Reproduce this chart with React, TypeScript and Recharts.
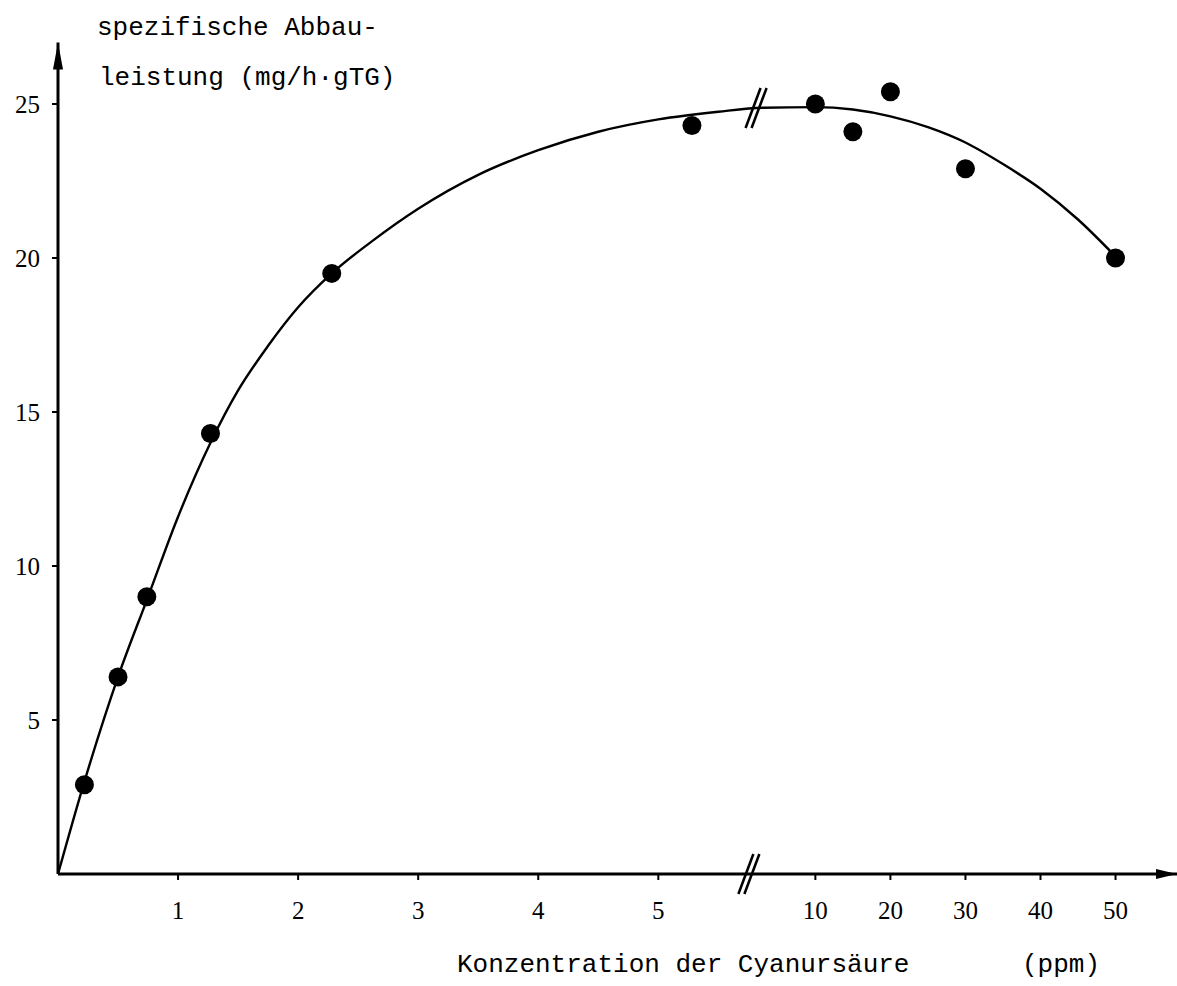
import React from 'react';
import {
  ComposedChart,
  Line,
  Scatter,
  XAxis,
  YAxis,
  ReferenceDot,
} from 'recharts';

// measured points, left part of the broken axis (ppm)
const leftPpm = [0.22, 0.5, 0.74, 1.27, 2.28, 5.28];
const leftRate = [2.9, 6.4, 9.0, 14.3, 19.5, 24.3];

// measured points, right part of the broken axis (ppm)
const rightPpm = [10, 15, 20, 30, 50];
const rightRate = [25.0, 24.1, 25.4, 22.9, 20.0];

// fitted curve
const curveLeftPpm = [0, 0.22, 0.5, 0.75, 1.0, 1.27, 1.5, 1.75, 2.0, 2.28, 2.6, 3.0, 3.5, 4.0, 4.5, 5.0, 5.5];
const curveLeftRate = [0, 3.0, 6.4, 9.0, 11.6, 14.0, 15.7, 17.15, 18.4, 19.5, 20.5, 21.6, 22.7, 23.5, 24.1, 24.5, 24.75];
const curveRightPpm = [3, 10, 15, 20, 25, 30, 35, 40, 45, 50];
const curveRightRate = [24.88, 24.9, 24.82, 24.6, 24.25, 23.75, 23.05, 22.25, 21.25, 20.05];

const xTicksLeft = [1, 2, 3, 4, 5];
const xTicksRight = [10, 20, 30, 40, 50];
const yTicks = [5, 10, 15, 20, 25];

// right part of the axis: 10 ppm = 0.625 left units, shifted behind the break
const BREAK_POS = 5.75;
const rightPos = (ppm: number) => 5.683 + ppm / 16;

const X_MAX = 9.32;
const Y_MAX = 27;

const points = [
  ...leftPpm.map((p, i) => ({ pos: p, rate: leftRate[i] })),
  ...rightPpm.map((p, i) => ({ pos: rightPos(p), rate: rightRate[i] })),
];

const curve = [
  ...curveLeftPpm.map((p, i) => ({ pos: p, rate: curveLeftRate[i] })),
  ...curveRightPpm.map((p, i) => ({ pos: rightPos(p), rate: curveRightRate[i] })),
];

const xTicks = [...xTicksLeft, ...xTicksRight.map(rightPos)];
const xTickLabels = [...xTicksLeft, ...xTicksRight].map(String);

const FONT = '"Liberation Mono", "DejaVu Sans Mono", monospace';
const NUM_FONT = '"Liberation Serif", "DejaVu Serif", serif';

const BreakMark = (props: any) => {
  const { cx, cy } = props;
  return (
    <g stroke="#000" strokeWidth={2.5}>
      <line x1={cx - 10} y1={cy + 20} x2={cx + 5} y2={cy - 20} />
      <line x1={cx - 4} y1={cy + 20} x2={cx + 11} y2={cy - 20} />
    </g>
  );
};

const ArrowUp = (props: any) => {
  const { cx, cy } = props;
  return <polygon points={`${cx},${cy} ${cx - 5},${cy + 27} ${cx + 5},${cy + 27}`} fill="#000" />;
};

const ArrowRight = (props: any) => {
  const { cx, cy } = props;
  return <polygon points={`${cx},${cy} ${cx - 21},${cy - 5} ${cx - 21},${cy + 5}`} fill="#000" />;
};

const Dot = (props: any) => <circle cx={props.cx} cy={props.cy} r={9.5} fill="#000" />;

export default function App() {
  return (
    <div style={{ position: 'absolute', left: 0, top: 0, width: 1177, height: 986, background: '#fff' }}>
      <ComposedChart
        width={1177}
        height={986}
        margin={{ top: 42.4, right: 0, bottom: 52, left: 0 }}
      >
        <XAxis
          type="number"
          dataKey="pos"
          domain={[0, X_MAX]}
          allowDataOverflow
          ticks={xTicks}
          interval={0}
          tickFormatter={(_v: number, i: number) => xTickLabels[i]}
          height={60}
          tickSize={6}
          tickMargin={21}
          axisLine={{ stroke: '#000', strokeWidth: 3 }}
          tickLine={{ stroke: '#000', strokeWidth: 2 }}
          tick={{ fontFamily: NUM_FONT, fontSize: 25, fill: '#000' }}
        />
        <YAxis
          type="number"
          domain={[0, Y_MAX]}
          allowDataOverflow
          ticks={yTicks}
          interval={0}
          width={58}
          tickSize={6}
          tickMargin={12}
          axisLine={{ stroke: '#000', strokeWidth: 3 }}
          tickLine={{ stroke: '#000', strokeWidth: 2 }}
          tick={{ fontFamily: NUM_FONT, fontSize: 25, fill: '#000' }}
        />
        <Line
          data={curve}
          dataKey="rate"
          type="monotone"
          stroke="#000"
          strokeWidth={2.4}
          dot={false}
          activeDot={false}
          isAnimationActive={false}
        />
        <Scatter data={points} dataKey="rate" shape={Dot} isAnimationActive={false} />
        <ReferenceDot x={BREAK_POS} y={0} shape={BreakMark} ifOverflow="visible" />
        <ReferenceDot x={5.81} y={24.87} shape={BreakMark} ifOverflow="visible" />
        <ReferenceDot x={0} y={Y_MAX} shape={ArrowUp} ifOverflow="visible" />
        <ReferenceDot x={X_MAX} y={0} shape={ArrowRight} ifOverflow="visible" />
      </ComposedChart>
      <svg
        width={1177}
        height={986}
        style={{ position: 'absolute', left: 0, top: 0, pointerEvents: 'none' }}
      >
        <g fontFamily={FONT} fontSize={26} fill="#000">
          <text x={97} y={35}>spezifische Abbau-</text>
          <text x={99} y={85}>leistung (mg/h·gTG)</text>
          <text x={457} y={972}>Konzentration der Cyanursäure</text>
          <text x={1022} y={972}>(ppm)</text>
        </g>
      </svg>
    </div>
  );
}
